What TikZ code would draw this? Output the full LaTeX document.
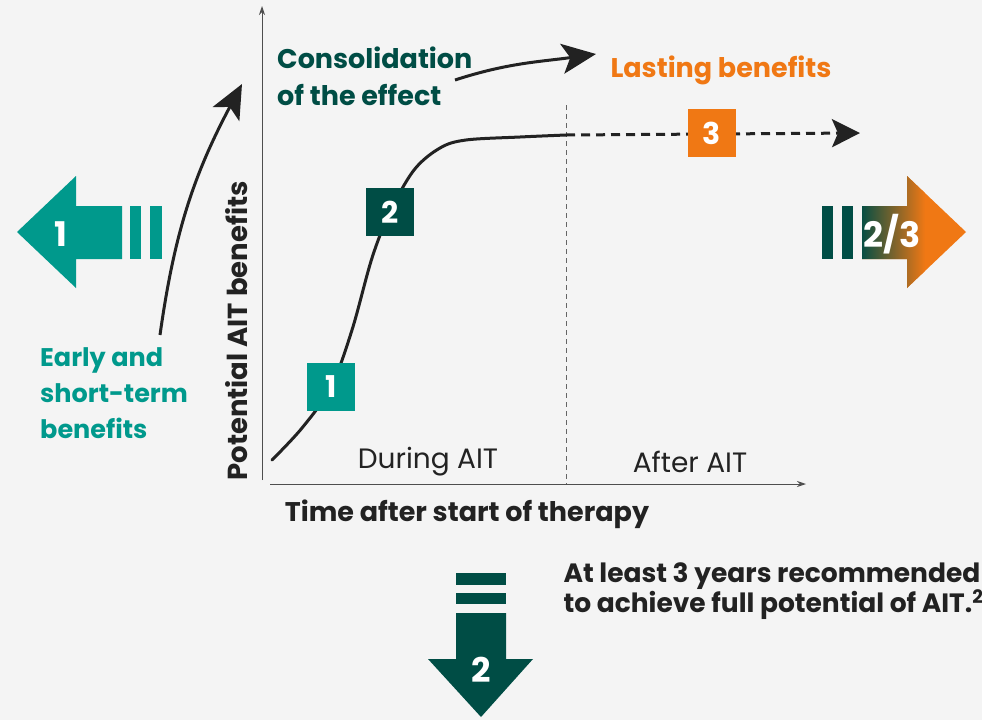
\documentclass[tikz,border=0pt]{standalone}
\usepackage{fontspec}
\setmainfont{Poppins}
\usetikzlibrary{arrows.meta}
\definecolor{bg}{HTML}{F4F4F4}
\definecolor{teal}{HTML}{00998C}
\definecolor{dgreen}{HTML}{004D45}
\definecolor{orng}{HTML}{F07814}
\definecolor{txt}{HTML}{222222}
\tikzset{
  numbox/.style={minimum width=48pt,minimum height=48pt,inner sep=0pt,text=white,font=\fontsize{30}{30}\selectfont\bfseries},
  arrnum/.style={text=white,font=\fontsize{34}{34}\selectfont\bfseries,inner sep=0pt},
  axis/.style={draw=txt!80,line width=1pt,-{Stealth[length=9pt,width=6pt]}},
  bigarrow/.style={draw=txt,line width=3pt,-{Stealth[length=34pt,width=30pt,inset=8pt]}},
  lbl/.style={font=\fontsize{27}{37}\selectfont\bfseries,align=left,inner sep=0pt},
}
\begin{document}
\begin{tikzpicture}[x=1pt,y=-1pt]
\fill[bg] (0,0) rectangle (982,720);
\useasboundingbox (0,0) rectangle (982,720);
% axes
\coordinate (ybot) at (262,480);
\coordinate (ytop) at (262,6);
\coordinate (xs) at (270,484);
\coordinate (xend) at (806,484);
\draw[axis] (ybot) -- (ytop);
\draw[axis] (xs) -- (xend);
% divider
\coordinate (d1) at (566,105);
\coordinate (d2) at (566,484);
\draw[txt!70,line width=0.8pt,dash pattern=on 5pt off 4pt] (d1) -- (d2);
% curve
\draw[txt,line width=3pt,line cap=round] plot[smooth,tension=0.55] coordinates {(272,460) (302,428) (331,387) (352,330) (372,258) (390,212) (414,170) (440,148) (466,140) (520,137) (566,135)};
\coordinate (c3) at (566,135);
\coordinate (c3end) at (860,133);
\draw[txt,line width=3pt,dash pattern=on 9pt off 6pt,-{Stealth[length=28pt,width=28pt,inset=6pt]}] (c3) -- (c3end);
% boxes
\node[numbox,fill=teal] (b1) at (331,387) {1};
\node[numbox,fill=dgreen] (b2) at (390,212) {2};
\node[numbox,fill=orng] (b3) at (712,133) {3};
% axis labels
\node[font=\fontsize{28}{28}\selectfont,text=txt] (during) at (428,462) {During AIT};
\node[font=\fontsize{28}{28}\selectfont,text=txt] (after) at (690,462) {After AIT};
\node[font=\fontsize{27}{27}\selectfont\bfseries,text=txt] (xlabel) at (467,514) {Time after start of therapy};
\node[font=\fontsize{27.5}{27.5}\selectfont\bfseries,text=txt,rotate=90] (ylabel) at (237,331) {Potential AIT benefits};
% phase labels
\node[lbl,text=dgreen,anchor=north west] (cons) at (277,47) {Consolidation\\of the effect};
\node[lbl,text=orng] (last) at (721,70) {Lasting benefits};
\node[lbl,font=\fontsize{25.5}{36}\selectfont\bfseries,text=teal,anchor=north west] (early) at (40,347) {Early and\\short-term\\benefits};
% curved arrows
\coordinate (a1s) at (160,335);
\coordinate (a1e) at (242,84);
\draw[bigarrow] (a1s) to[out=82,in=-118] (a1e);
\coordinate (a2s) at (455,80);
\coordinate (a2e) at (596,54);
\draw[bigarrow] (a2s) to[out=18,in=188] (a2e);
% left arrow 1
\fill[teal] (17,232) -- (76,176) -- (76,206) -- (122,206) -- (122,259) -- (76,259) -- (76,288) -- cycle;
\fill[teal] (130,206) rectangle (141,259);
\fill[teal] (150,206) rectangle (162,259);
\node[arrnum] (n1) at (61,234) {1};
% right arrow 2/3
\fill[dgreen] (822,206) rectangle (833,259);
\fill[dgreen] (842,206) rectangle (853,259);
\begin{scope}
\clip (862,206) -- (907,206) -- (907,176) -- (966,232) -- (907,288) -- (907,259) -- (862,259) -- cycle;
\fill[orng] (860,170) rectangle (970,295);
\shade[left color=dgreen,right color=orng] (860,170) rectangle (925,295);
\end{scope}
\node[arrnum,font=\fontsize{35}{35}\selectfont\bfseries] (n23) at (892,234) {2/3};
% down arrow 2
\fill[dgreen] (456,573) rectangle (506,585);
\fill[dgreen] (456,593) rectangle (506,604);
\fill[dgreen] (456,613) -- (506,613) -- (506,659) -- (533,659) -- (481,717) -- (428,659) -- (456,659) -- cycle;
\node[arrnum] (n2) at (481,670) {2};
% note
\node[font=\fontsize{26.5}{30}\selectfont\bfseries,text=txt,anchor=west,align=left] (note) at (560,591) {At least 3 years recommended\\to achieve full potential of AIT.\textsuperscript{2}};
\end{tikzpicture}
\end{document}
